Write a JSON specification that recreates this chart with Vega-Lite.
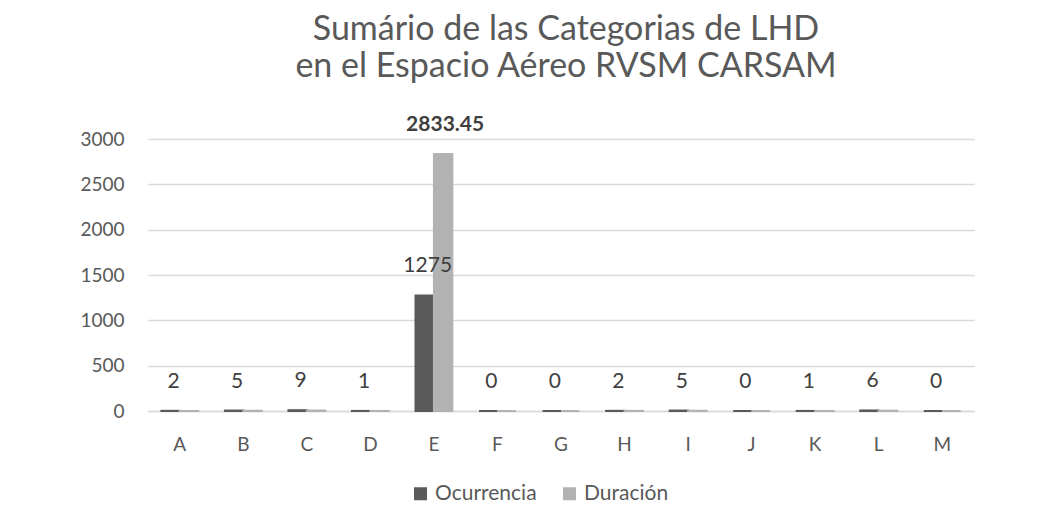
{
  "$schema": "https://vega.github.io/schema/vega-lite/v6.json",
  "autosize": "none",
  "width": 826,
  "height": 272,
  "padding": {"left": 148, "top": 139, "right": 78, "bottom": 120},
  "background": "white",
  "config": {
    "font": "Lato",
    "view": {"stroke": null},
    "axis": {"labelColor": "#595959", "labelFont": "Lato"}
  },
  "title": {
    "text": ["Sumário de las Categorias de LHD", "en el Espacio Aéreo RVSM CARSAM"],
    "font": "Lato",
    "fontSize": 34,
    "fontWeight": "normal",
    "color": "#595959",
    "lineHeight": 37,
    "anchor": "middle",
    "offset": 30,
    "dx": 5
  },
  "data": {
    "values": [
      {"cat": "A", "serie": "Ocurrencia", "valor": 2},
      {"cat": "A", "serie": "Duración", "valor": 1.2},
      {"cat": "B", "serie": "Ocurrencia", "valor": 5},
      {"cat": "B", "serie": "Duración", "valor": 3.1},
      {"cat": "C", "serie": "Ocurrencia", "valor": 9},
      {"cat": "C", "serie": "Duración", "valor": 5.6},
      {"cat": "D", "serie": "Ocurrencia", "valor": 1},
      {"cat": "D", "serie": "Duración", "valor": 0.4},
      {"cat": "E", "serie": "Ocurrencia", "valor": 1275},
      {"cat": "E", "serie": "Duración", "valor": 2833.45},
      {"cat": "F", "serie": "Ocurrencia", "valor": 0},
      {"cat": "F", "serie": "Duración", "valor": 0},
      {"cat": "G", "serie": "Ocurrencia", "valor": 0},
      {"cat": "G", "serie": "Duración", "valor": 0},
      {"cat": "H", "serie": "Ocurrencia", "valor": 2},
      {"cat": "H", "serie": "Duración", "valor": 1.3},
      {"cat": "I", "serie": "Ocurrencia", "valor": 5},
      {"cat": "I", "serie": "Duración", "valor": 2.9},
      {"cat": "J", "serie": "Ocurrencia", "valor": 0},
      {"cat": "J", "serie": "Duración", "valor": 0},
      {"cat": "K", "serie": "Ocurrencia", "valor": 1},
      {"cat": "K", "serie": "Duración", "valor": 0.6},
      {"cat": "L", "serie": "Ocurrencia", "valor": 6},
      {"cat": "L", "serie": "Duración", "valor": 3.8},
      {"cat": "M", "serie": "Ocurrencia", "valor": 0},
      {"cat": "M", "serie": "Duración", "valor": 0}
    ]
  },
  "encoding": {
    "x": {
      "field": "cat",
      "type": "nominal",
      "sort": null,
      "scale": {"paddingInner": 0.42, "paddingOuter": 0.21},
      "axis": {
        "title": null,
        "labelAngle": 0,
        "labelFontSize": 19,
        "labelPadding": 24,
        "ticks": false,
        "domain": true,
        "domainColor": "#d9d9d9",
        "domainWidth": 1.5
      }
    },
    "xOffset": {"field": "serie", "type": "nominal", "sort": ["Ocurrencia", "Duración"], "scale": {"paddingInner": 0}}
  },
  "layer": [
    {
      "mark": {"type": "bar", "strokeWidth": 2, "xOffset": 6},
      "encoding": {
        "y": {
          "field": "valor",
          "type": "quantitative",
          "scale": {"domain": [0, 3000]},
          "axis": {
            "title": null,
            "values": [0, 500, 1000, 1500, 2000, 2500, 3000],
            "format": "d",
            "labelFontSize": 19,
            "labelPadding": 24,
            "ticks": false,
            "domain": false,
            "gridColor": "#d9d9d9",
            "gridWidth": 1.5
          }
        },
        "color": {
          "field": "serie",
          "type": "nominal",
          "sort": ["Ocurrencia", "Duración"],
          "scale": {"domain": ["Ocurrencia", "Duración"], "range": ["#5a5a5a", "#b2b2b2"]},
          "legend": {
            "title": null,
            "orient": "none",
            "direction": "horizontal",
            "legendX": 262,
            "legendY": 344,
            "symbolType": "square",
            "symbolSize": 169,
            "symbolStrokeWidth": 0,
            "labelFontSize": 21,
            "labelColor": "#595959",
            "labelFont": "Lato",
            "columnPadding": 22,
            "symbolOpacity": 1
          }
        },
        "stroke": {
          "field": "serie",
          "type": "nominal",
          "scale": {"domain": ["Ocurrencia", "Duración"], "range": ["#5a5a5a", "#b2b2b2"]},
          "legend": null
        }
      }
    },
    {
      "transform": [{"filter": "datum.serie === 'Ocurrencia'"}],
      "mark": {"type": "text", "baseline": "middle", "dy": -29, "dx": 3, "fontSize": 21, "color": "#404040"},
      "encoding": {
        "y": {"field": "valor", "type": "quantitative"},
        "text": {"field": "valor", "type": "quantitative", "format": "d"}
      }
    },
    {
      "transform": [{"filter": "datum.serie === 'Duración' && datum.valor > 100"}],
      "mark": {"type": "text", "baseline": "middle", "dy": -29, "dx": 2, "fontSize": 21, "fontWeight": "bold", "color": "#404040"},
      "encoding": {
        "y": {"field": "valor", "type": "quantitative"},
        "text": {"field": "valor", "type": "quantitative", "format": ".2f"}
      }
    }
  ]
}
